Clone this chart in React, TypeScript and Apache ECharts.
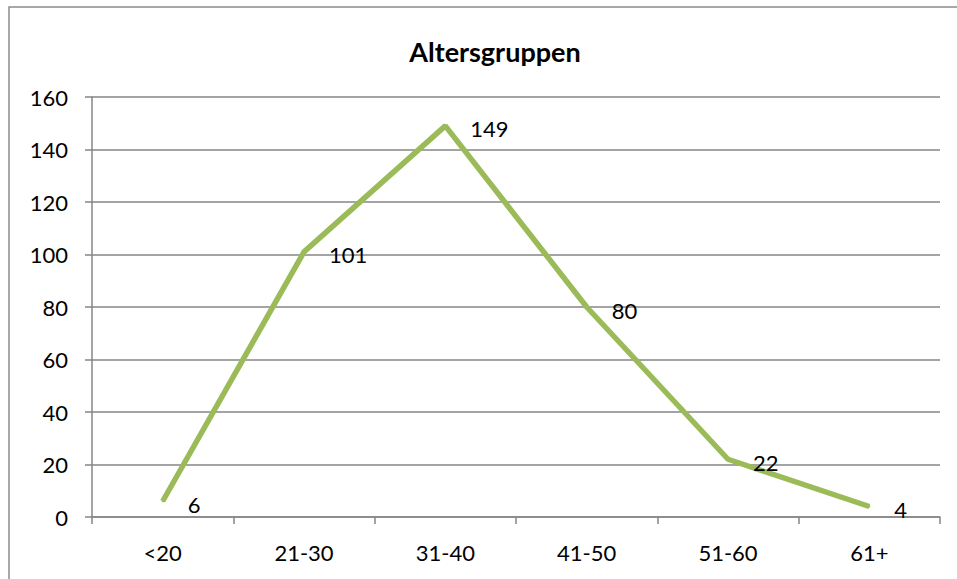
import React, { useEffect, useRef } from "react";
import * as echarts from "echarts";

const categories = ["<20", "21-30", "31-40", "41-50", "51-60", "61+"];
const values = [6, 101, 149, 80, 22, 4];
const title = "Altersgruppen";

export default function App() {
  const ref = useRef<HTMLDivElement>(null);
  useEffect(() => {
    const chart = echarts.init(ref.current!, null, { renderer: "svg" });
    const font = "Lato, 'Open Sans', sans-serif";
    chart.setOption({
      animation: false,
      backgroundColor: "#ffffff",
      title: {
        text: title,
        left: 490,
        textAlign: "center",
        top: 33,
        textStyle: { fontFamily: font, fontWeight: "bold", fontSize: 27, color: "#000" },
      },
      graphic: [
        {
          type: "rect",
          shape: { x: 9, y: 7, width: 1000, height: 700 },
          style: { fill: "none", stroke: "#8c8c8c", lineWidth: 1.5 },
          silent: true,
        },
      ],
      grid: { left: 92, right: 17, top: 97, bottom: 62 },
      xAxis: {
        type: "category",
        data: categories,
        boundaryGap: true,
        axisLine: { show: true, lineStyle: { color: "#868686", width: 1.5 } },
        axisTick: { show: true, length: 7, lineStyle: { color: "#868686", width: 1.5 } },
        axisLabel: { fontFamily: font, fontSize: 22, color: "#000", margin: 24 },
      },
      yAxis: {
        type: "value",
        min: 0,
        max: 160,
        interval: 20,
        axisLine: { show: true, lineStyle: { color: "#868686", width: 1.5 } },
        axisTick: { show: true, length: 7, lineStyle: { color: "#868686", width: 1.5 } },
        axisLabel: { fontFamily: font, fontSize: 22, color: "#000", margin: 24 },
        splitLine: { lineStyle: { color: "#868686", width: 1.5 } },
      },
      series: [
        {
          type: "line",
          data: values,
          showSymbol: true,
          showAllSymbol: true,
          symbol: "circle",
          symbolSize: 2,
          itemStyle: { color: "#9BBB59", borderWidth: 0 },
          lineStyle: { color: "#9BBB59", width: 5.5 },
          label: {
            show: true,
            position: "right",
            distance: 5,
            offset: [19, 3],
            fontFamily: font,
            fontSize: 22,
            color: "#000",
          },
        },
      ],
    });
    return () => chart.dispose();
  }, []);
  return (
    <div
      ref={ref}
      style={{ position: "fixed", left: 0, top: 0, width: 957, height: 579 }}
    />
  );
}
